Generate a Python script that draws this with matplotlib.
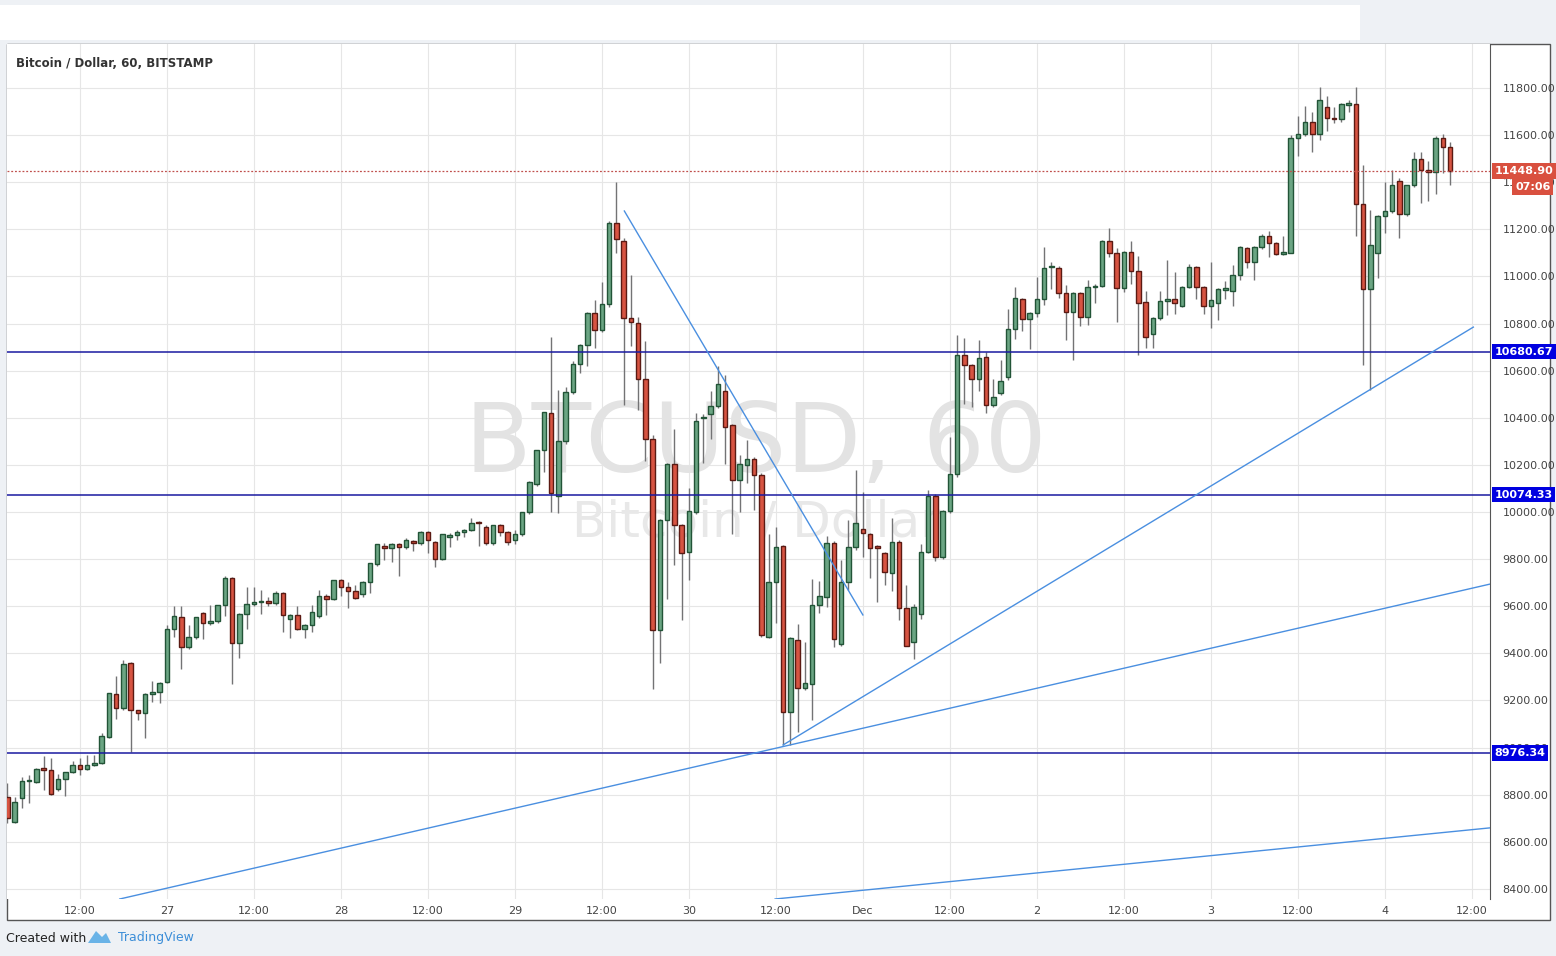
import matplotlib.pyplot as plt
from matplotlib.patches import Rectangle, Polygon
from matplotlib.transforms import blended_transform_factory

# hourly candles, BTC/USD Bitstamp, 26 Nov 02:00 .. 4 Dec 09:00
opens = [8792, 8686, 8785, 8857, 8855, 8912, 8904, 8826, 8866, 8895, 8925, 8908, 8925, 8933, 9046, 9226, 9167, 9358, 9158, 9145,
         9226, 9237, 9280, 9502, 9553, 9426, 9468, 9570, 9527, 9537, 9604, 9719, 9443, 9566, 9608, 9617, 9622, 9612, 9655, 9546,
         9562, 9502, 9519, 9557, 9642, 9629, 9710, 9680, 9663, 9650, 9701, 9778, 9854, 9846, 9863, 9853, 9877, 9867, 9914, 9871,
         9799, 9893, 9901, 9914, 9922, 9956, 9935, 9867, 9943, 9914, 9880, 9905, 9999, 10120, 10262, 10419, 10070, 10300, 10509, 10630,
         10709, 10846, 10773, 10884, 11227, 11152, 10824, 10802, 10565, 10311, 9500, 9964, 10204, 9946, 9831, 9998, 10398, 10417, 10448, 10513,
         10369, 10134, 10201, 10225, 10159, 9471, 9702, 9856, 9153, 9457, 9252, 9268, 9605, 9641, 9867, 9438, 9704, 9853, 9930, 9905,
         9852, 9825, 9740, 9874, 9591, 9448, 9566, 9832, 10068, 9810, 10004, 10160, 10665, 10623, 10563, 10657, 10453, 10504, 10572, 10776,
         10903, 10818, 10843, 10903, 11040, 11037, 10928, 10848, 10928, 10829, 10954, 10961, 11151, 11098, 10952, 11102, 11025, 10893, 10755, 10822,
         10895, 10903, 10876, 10954, 11039, 10954, 10876, 10886, 10943, 10937, 11005, 11120, 11063, 11124, 11172, 11141, 11094, 11101, 11586, 11603,
         11654, 11603, 11721, 11674, 11667, 11730, 11732, 11306, 10945, 11101, 11257, 11278, 11405, 11264, 11387, 11499, 11452, 11442, 11589, 11548]
highs = [8851, 8792, 8875, 8884, 8915, 8963, 8955, 8887, 8898, 8944, 8955, 8970, 8970, 9062, 9232, 9305, 9370, 9362, 9160, 9230,
         9281, 9280, 9520, 9600, 9600, 9520, 9556, 9575, 9604, 9606, 9730, 9722, 9570, 9680, 9680, 9669, 9640, 9665, 9660, 9565,
         9600, 9525, 9605, 9669, 9650, 9712, 9715, 9703, 9690, 9705, 9785, 9866, 9870, 9870, 9870, 9890, 9880, 9920, 9918, 9875,
         9908, 9910, 9925, 9930, 9974, 9962, 9945, 9945, 9950, 9920, 9925, 10000, 10130, 10265, 10425, 10745, 10520, 10530, 10640, 10715,
         10850, 10900, 10976, 11235, 11400, 11165, 11005, 10830, 10726, 10327, 9970, 10210, 10353, 9950, 10100, 10420, 10418, 10515, 10620, 10583,
         10375, 10243, 10305, 10235, 10165, 9905, 9935, 9860, 9470, 9525, 9450, 9715, 9705, 9900, 9875, 9795, 9965, 10180, 10085, 9910,
         9860, 9830, 9975, 9880, 9690, 9610, 9866, 10093, 10075, 10010, 10320, 10750, 10740, 10630, 10730, 10680, 10565, 10645, 10862, 10955,
         10910, 10850, 10999, 11126, 11060, 11045, 10963, 10935, 10935, 10985, 10970, 11155, 11207, 11120, 11110, 11150, 11085, 10940, 10830, 10939,
         11070, 11020, 10960, 11053, 11045, 10960, 11060, 10950, 10980, 11050, 11128, 11125, 11130, 11180, 11192, 11145, 11170, 11600, 11680, 11725,
         11700, 11805, 11765, 11720, 11735, 11750, 11805, 11475, 11283, 11260, 11400, 11450, 11420, 11390, 11530, 11530, 11490, 11595, 11605, 11570]
lows = [8680, 8680, 8745, 8766, 8850, 8821, 8800, 8816, 8795, 8890, 8884, 8905, 8920, 8930, 9040, 9122, 9160, 8980, 9115, 9042,
        9195, 9190, 9275, 9470, 9335, 9420, 9460, 9461, 9520, 9530, 9560, 9270, 9382, 9505, 9600, 9566, 9600, 9605, 9489, 9466,
        9500, 9466, 9490, 9550, 9562, 9625, 9645, 9591, 9630, 9640, 9657, 9770, 9796, 9788, 9730, 9845, 9833, 9860, 9827, 9768,
        9795, 9853, 9880, 9895, 9920, 9854, 9860, 9860, 9900, 9860, 9865, 9900, 9990, 10110, 10170, 10000, 9997, 10290, 10500, 10590,
        10620, 10695, 10765, 10870, 11100, 10454, 10705, 10432, 10218, 9250, 9357, 9631, 9775, 9540, 9710, 9990, 10210, 10310, 10440, 10205,
        9908, 9999, 10124, 10008, 9470, 9465, 9530, 9010, 9010, 9065, 9245, 9115, 9570, 9595, 9428, 9430, 9670, 9840, 9810, 9718,
        9620, 9690, 9665, 9543, 9430, 9378, 9545, 9825, 9793, 9800, 9995, 10150, 10460, 10446, 10515, 10420, 10445, 10495, 10560, 10735,
        10770, 10690, 10830, 10880, 10946, 10908, 10732, 10644, 10790, 10795, 10886, 10955, 11081, 10807, 10935, 10966, 10665, 10695, 10695, 10815,
        10835, 10840, 10870, 10950, 10906, 10840, 10780, 10816, 10906, 10876, 10983, 11036, 10987, 11115, 11084, 11090, 11090, 11100, 11510, 11595,
        11527, 11580, 11617, 11650, 11655, 11700, 11170, 10625, 10520, 10995, 11185, 11270, 11165, 11255, 11380, 11310, 11320, 11350, 11440, 11390]
closes = [8700, 8768, 8857, 8860, 8911, 8904, 8802, 8866, 8895, 8925, 8908, 8925, 8933, 9048, 9230, 9167, 9353, 9158, 9145, 9226,
          9237, 9273, 9502, 9557, 9426, 9468, 9553, 9527, 9537, 9604, 9719, 9443, 9566, 9608, 9616, 9620, 9612, 9655, 9562, 9562,
          9502, 9519, 9574, 9642, 9629, 9710, 9680, 9663, 9634, 9701, 9782, 9863, 9846, 9863, 9853, 9880, 9867, 9914, 9880, 9799,
          9905, 9901, 9914, 9922, 9952, 9952, 9867, 9943, 9914, 9871, 9905, 9999, 10126, 10262, 10423, 10082, 10300, 10509, 10630, 10709,
          10846, 10773, 10884, 11227, 11158, 10824, 10805, 10565, 10311, 9497, 9964, 10204, 9946, 9824, 10006, 10387, 10402, 10451, 10544, 10360,
          10134, 10204, 10225, 10159, 9477, 9702, 9850, 9153, 9464, 9252, 9273, 9605, 9644, 9867, 9460, 9704, 9853, 9952, 9910, 9846,
          9848, 9747, 9874, 9591, 9433, 9598, 9832, 10068, 9810, 10004, 10160, 10665, 10623, 10563, 10652, 10453, 10487, 10555, 10776, 10907,
          10818, 10843, 10903, 11037, 11044, 10928, 10848, 10928, 10829, 10954, 10961, 11151, 11098, 10952, 11102, 11025, 10886, 10742, 10822, 10896,
          10904, 10889, 10954, 11039, 10954, 10876, 10900, 10945, 10947, 11005, 11124, 11063, 11124, 11172, 11141, 11094, 11104, 11586, 11603, 11654,
          11603, 11749, 11674, 11667, 11732, 11734, 11306, 10945, 11134, 11257, 11278, 11387, 11264, 11387, 11499, 11452, 11442, 11589, 11548, 11449]

# horizontal levels and drawn trend lines (bar index, price)
levels = [10680.67, 10074.33, 8976.34]
last_price = 11448.90
trend_lines = [((85.1, 11278), (118.0, 9563)),
               ((107.0, 9011), (202.2, 10785)),
               ((15.5, 8357), (204.5, 9694)),
               ((105.9, 8357), (204.5, 8659))]

x_ticks = [10, 22, 34, 46, 58, 70, 82, 94, 106, 118, 130, 142, 154, 166, 178, 190, 202]
x_labels = ['12:00', '27', '12:00', '28', '12:00', '29', '12:00', '30', '12:00', 'Dec',
            '12:00', '2', '12:00', '3', '12:00', '4', '12:00']
y_ticks = list(range(8400, 11801, 200))

W, H = 1556, 956
fig = plt.figure(figsize=(W / 100, H / 100), dpi=100, facecolor='#eef1f5')
fig.patches.append(Rectangle((0, 1 - 40 / H), 1360 / W, 35 / H, transform=fig.transFigure,
                             facecolor='white', edgecolor='none', zorder=-2))
fig.patches.append(Rectangle((7 / W, 1 - 920 / H), 1543 / W, 876 / H, transform=fig.transFigure,
                             facecolor='white', edgecolor='#555555', linewidth=1.0, zorder=-1))

ax = fig.add_axes([7 / W, 1 - 899 / H, 1483 / W, 855 / H])
ax.set_xlim(-0.05, 204.5)
ax.set_ylim(8357, 11987)

up_fill, up_edge = '#6ba583', '#225437'
dn_fill, dn_edge = '#d75442', '#5b1a13'
idx = list(range(len(closes)))
ax.vlines(idx, lows, highs, color='#737375', linewidth=1.0, zorder=3)
bottoms = [min(o, c) for o, c in zip(opens, closes)]
heights = [max(abs(c - o), 6) for o, c in zip(opens, closes)]
fills = [up_fill if c >= o else dn_fill for o, c in zip(opens, closes)]
edges = [up_edge if c >= o else dn_edge for o, c in zip(opens, closes)]
ax.bar(idx, heights, bottom=bottoms, width=0.62, color=fills, edgecolor=edges, linewidth=1.0, zorder=4)

for lv in levels:
    ax.axhline(lv, color='#1a1aa0', linewidth=1.1, zorder=5)
ax.axhline(last_price, color='#c0504d', linewidth=0.9, linestyle=(0, (1.5, 1.5)), zorder=5)

for (x0, y0), (x1, y1) in trend_lines:
    ax.plot([x0, x1], [y0, y1], color='#4a8fe0', linewidth=1.0, zorder=6)

# watermark
ax.text(0.505, 0.53, 'BTCUSD, 60', transform=ax.transAxes, ha='center', va='center',
        fontsize=70, color='#e3e3e3', zorder=1)
ax.text(0.505, 0.44, 'Bitcoin / Dollar', transform=ax.transAxes, ha='center', va='center',
        fontsize=36, color='#e8e8e8', zorder=1)
ax.text(0.006, 0.985, 'Bitcoin / Dollar, 60, BITSTAMP', transform=ax.transAxes, ha='left', va='top',
        fontsize=8.5, fontweight='bold', color='#333333')

ax.set_xticks(x_ticks)
ax.set_xticklabels(x_labels)
ax.set_yticks(y_ticks)
ax.set_yticklabels([f'{v:.2f}' for v in y_ticks])
ax.yaxis.tick_right()
ax.tick_params(axis='both', length=0, labelsize=8, labelcolor='#444444')
ax.tick_params(axis='y', pad=9)
ax.tick_params(axis='x', pad=5)
ax.grid(True, color='#e6e6e6', linewidth=0.8)
ax.set_axisbelow(True)
for s in ['top', 'left', 'bottom']:
    ax.spines[s].set_visible(False)
ax.spines['right'].set_color('#555555')

tr = blended_transform_factory(ax.transAxes, ax.transData)
for lv in levels:
    ax.text(1.003, lv, f'{lv:.2f}', transform=tr, ha='left', va='center', fontsize=8, fontweight='bold',
            color='white', bbox=dict(boxstyle='square,pad=0.25', facecolor='#0000e0', edgecolor='none'), zorder=10)
ax.text(1.003, last_price, f'{last_price:.2f}', transform=tr, ha='left', va='center', fontsize=8,
        fontweight='bold', color='white',
        bbox=dict(boxstyle='square,pad=0.25', facecolor='#d9503f', edgecolor='none'), zorder=10)
ax.text(1.017, last_price - 70, '07:06', transform=tr, ha='left', va='center', fontsize=8,
        fontweight='bold', color='white',
        bbox=dict(boxstyle='square,pad=0.25', facecolor='#d9503f', edgecolor='none'), zorder=10)

fig.text(6 / W, 1 - 938 / H, 'Created with', fontsize=9, color='#222222', va='center')
fig.patches.append(Polygon([(88 / W, 1 - 943 / H), (96 / W, 1 - 931 / H), (102 / W, 1 - 937 / H),
                            (106 / W, 1 - 933 / H), (111 / W, 1 - 943 / H)], closed=True,
                           transform=fig.transFigure, facecolor='#69b3e7', edgecolor='none'))
fig.text(118 / W, 1 - 938 / H, 'TradingView', fontsize=9, color='#3c8ed8', va='center')

fig.savefig('out.png', dpi=100, facecolor=fig.get_facecolor())
